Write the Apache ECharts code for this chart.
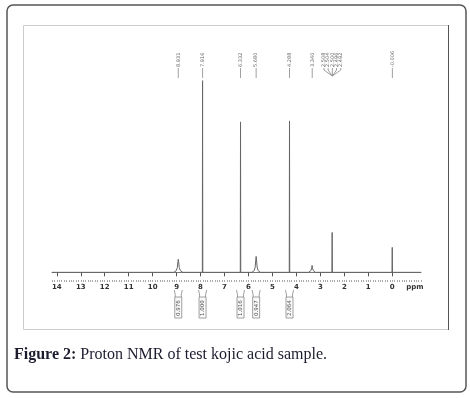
<!DOCTYPE html>
<html><head><meta charset="utf-8">
<script src="https://cdn.jsdelivr.net/npm/echarts@6/dist/echarts.min.js"></script>
<style>html,body{margin:0;padding:0;background:#fff}#c{width:470px;height:398px}</style>
</head><body><div id="c"></div>
<script>
// ---- data ----
const tickLabels = [14, 13, 12, 11, 10, 9, 8, 7, 6, 5, 4, 3, 2, 1, 0];
const spectrum = [
  [14.2, 0], [9.12, 0], [9.02, 0.8], [8.97, 2.5], [8.945, 5.5], [8.931, 6.8], [8.915, 5.5], [8.89, 2.5], [8.84, 0.8], [8.74, 0],
  [8.25, 0], [8.23, 0.6], [8.21, 0],
  [7.926, 0], [7.916, 100], [7.906, 0],
  [7.62, 0], [7.60, 0.6], [7.58, 0],
  [6.342, 0], [6.332, 78.5], [6.322, 0],
  [5.86, 0], [5.76, 0.9], [5.72, 2.8], [5.695, 6.5], [5.680, 8.3], [5.665, 6.5], [5.64, 2.8], [5.60, 0.9], [5.50, 0],
  [4.298, 0], [4.288, 79], [4.278, 0],
  [3.50, 0], [3.40, 0.8], [3.36, 2.2], [3.345, 3.6], [3.33, 2.2], [3.29, 0.8], [3.20, 0],
  [2.518, 0], [2.508, 20.8], [2.498, 0],
  [0.01, 0], [0.0, 13], [-0.01, 0],
  [-1.2, 0]
];
const peakPpm = [8.931, 7.916, 6.332, 5.680, 4.288, 3.340, 2.508, 2.504, 2.500, 2.496, 2.492, -0.006];
const peakLabels = ['8.931', '7.916', '6.332', '5.680', '4.288', '3.340', '2.508', '2.504', '2.500', '2.496', '2.492', '-0.006'];
const integralPpm = [8.931, 7.916, 6.332, 5.680, 4.288];
const integralValues = ['0.976', '1.000', '1.016', '0.947', '2.064'];

// ---- helpers ----
const minorTicks = [];
for (let v = -12; v <= 142; v++) minorTicks.push(v / 10);

// group close peak labels into clusters (fan-out labels)
const clusterInfo = [];
{
  let start = 0;
  for (let i = 1; i <= peakPpm.length; i++) {
    if (i === peakPpm.length || Math.abs(peakPpm[i] - peakPpm[i - 1]) > 0.05) {
      const n = i - start;
      let mean = 0;
      for (let j = start; j < i; j++) mean += peakPpm[j];
      mean /= n;
      for (let j = start; j < i; j++) clusterInfo[j] = { k: j - start, n: n, center: mean };
      start = i;
    }
  }
}

const chart = echarts.init(document.getElementById('c'), null, { renderer: 'canvas' });
const option = {
  animation: false,
  backgroundColor: '#fff',
  grid: { left: 52, right: 49, top: 50, bottom: 118 },
  xAxis: [
    {
      type: 'value', inverse: true, min: -1.2, max: 14.2,
      axisLine: { show: true, lineStyle: { color: '#777', width: 1 } },
      axisTick: { show: true, customValues: tickLabels, length: 4, inside: false, lineStyle: { color: '#555' } },
      axisLabel: {
        customValues: tickLabels.concat([-0.95]),
        formatter: v => (v < 0 ? 'ppm' : String(v)),
        fontSize: 7, fontWeight: 'bold', color: '#333', margin: 4, fontFamily: 'DejaVu Sans'
      },
      splitLine: { show: false }
    },
    {
      type: 'value', inverse: true, min: -1.2, max: 14.2, position: 'bottom',
      axisLine: { show: false },
      axisTick: { show: true, customValues: minorTicks, length: 2, lineStyle: { color: '#aaa' } },
      axisLabel: { show: false },
      splitLine: { show: false }
    }
  ],
  yAxis: { type: 'value', min: -4, max: 116, show: false },
  series: [
    {
      type: 'line', xAxisIndex: 0, yAxisIndex: 0,
      data: spectrum, showSymbol: false, symbol: 'none',
      lineStyle: { color: '#666', width: 1 }, silent: true
    },
    {
      type: 'custom', xAxisIndex: 0, yAxisIndex: 0, silent: true,
      data: peakPpm.map(p => [p, 0]),
      renderItem: function (params, api) {
        const i = params.dataIndex;
        const c = clusterInfo[i];
        const cx = api.coord([c.center, 0])[0];
        const lx = cx + (c.k - (c.n - 1) / 2) * 4.2;
        const children = [];
        if (c.n === 1) {
          children.push({ type: 'line', shape: { x1: lx, y1: 68, x2: lx, y2: 78 }, style: { stroke: '#888', lineWidth: 0.8 } });
        } else {
          children.push({ type: 'polyline', shape: { points: [[lx, 68], [lx, 70], [cx, 76]] }, style: { stroke: '#888', lineWidth: 0.8, fill: null } });
        }
        children.push({
          type: 'text', x: lx, y: 67, rotation: Math.PI / 2,
          style: { text: peakLabels[i], fontSize: 5, fill: '#666', align: 'left', verticalAlign: 'middle', fontFamily: 'DejaVu Sans' }
        });
        return { type: 'group', children: children };
      }
    },
    {
      type: 'custom', xAxisIndex: 0, yAxisIndex: 0, silent: true,
      data: integralPpm.map(p => [p, 0]),
      renderItem: function (params, api) {
        const i = params.dataIndex;
        const cx = api.coord([integralPpm[i], 0])[0];
        return {
          type: 'group',
          children: [
            { type: 'polyline', shape: { points: [[cx - 4, 290], [cx - 3, 295], [cx - 3, 297]] }, style: { stroke: '#888', lineWidth: 0.8, fill: null } },
            { type: 'polyline', shape: { points: [[cx + 4, 290], [cx + 3, 295], [cx + 3, 297]] }, style: { stroke: '#888', lineWidth: 0.8, fill: null } },
            { type: 'rect', shape: { x: cx - 3.5, y: 297, width: 7, height: 21 }, style: { stroke: '#888', lineWidth: 0.8, fill: '#fafafa' } },
            {
              type: 'text', x: cx, y: 316, rotation: Math.PI / 2,
              style: { text: integralValues[i], fontSize: 5.5, fill: '#555', align: 'left', verticalAlign: 'middle', fontFamily: 'DejaVu Sans' }
            }
          ]
        };
      }
    }
  ],
  graphic: [
    { type: 'rect', shape: { x: 7, y: 5, width: 459, height: 387, r: 6 }, style: { stroke: '#555', lineWidth: 1.5, fill: null }, silent: true },
    { type: 'rect', shape: { x: 23.5, y: 25.5, width: 425, height: 304 }, style: { stroke: '#ccc', lineWidth: 1, fill: null }, silent: true },
    { type: 'line', shape: { x1: 448.5, y1: 25, x2: 448.5, y2: 330 }, style: { stroke: '#555', lineWidth: 1 }, silent: true },
    {
      type: 'text', x: 14, y: 355, silent: true,
      style: {
        text: '{b|Figure 2:} Proton NMR of test kojic acid sample.',
        fontFamily: 'Liberation Serif', fontSize: 16, fill: '#1c1c2e', verticalAlign: 'middle',
        rich: { b: { fontWeight: 'bold', fontFamily: 'Liberation Serif', fontSize: 16, fill: '#1c1c2e' } }
      }
    }
  ]
};
chart.setOption(option);
</script>
</body></html>
